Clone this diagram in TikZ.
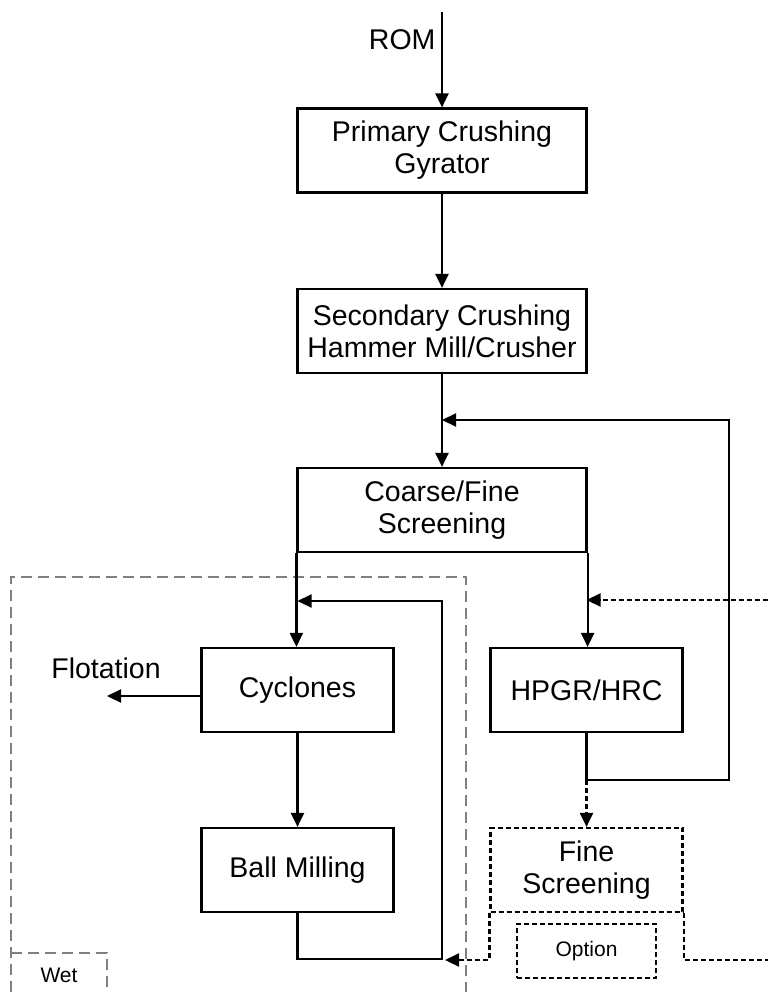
\documentclass[tikz,border=0pt]{standalone}
\usepackage{fontspec}
\setmainfont{Liberation Sans}
\usetikzlibrary{arrows.meta}
\begin{document}
\begin{tikzpicture}[x=1pt, y=-1pt,
          every node/.style={align=center, font=\fontsize{28.5}{32}\selectfont},
          box/.style={draw, line width=2.2pt, minimum width=289pt, minimum height=84pt, inner sep=0pt},
          unit/.style={box, minimum width=192pt},
          dbox/.style={unit, dash pattern=on 5pt off 3pt},
          small/.style={font=\fontsize{21}{25}\selectfont},
          flow/.style={line width=2.2pt, -{Triangle[length=14pt, width=13pt]}},
          dflow/.style={flow, dash pattern=on 5pt off 3pt},
          dline/.style={line width=2.2pt, dash pattern=on 5pt off 3pt},
          wetline/.style={gray, line width=1.2pt, dash pattern=on 11pt off 6pt}
        ]
        \useasboundingbox (0,0) rectangle (768,992);

        % Wet circuit frame
        \draw[wetline] (11,992) -- (11,577) -- (466,577) -- (466,992);
        \draw[wetline] (11,953) -- (107,953) -- (107,992);
        \node[small] (wet) at (59,975) {Wet};

        % Crushing line
        \coordinate (rom) at (442,12);
        \node[anchor=east] (romtxt) at (439,40) {ROM};
        \node[box] (prim) at (442,150.5) {Primary Crushing\\Gyrator};
        \node[box] (sec) at (442,331) {Secondary Crushing\\Hammer Mill/Crusher};
        \node[box] (coarse) at (442,510) {Coarse/Fine\\Screening};

        % Wet branch
        \node[unit] (cyc) at (297.5,690) {Cyclones};
        \node[unit] (ball) at (297.5,870) {Ball Milling};
        \coordinate (flot) at (107,696);
        \node (flottxt) at (106,668) {Flotation};

        % Dry branch
        \node[unit] (hpgr) at (586.5,690) {HPGR/HRC};
        \node[dbox] (fine) at (586.5,870) {Fine\\Screening};
        \node[dbox, small, minimum width=139pt, minimum height=54pt] (opt) at (586.5,951) {Option};

        % Return points
        \coordinate (secin) at (442,420);
        \coordinate (cycin) at (297.5,601);
        \coordinate (hpgrin) at (586.5,600);
        \coordinate (ballret) at (442,959);
        \coordinate (hpgrret) at (729,780);
        \coordinate (rin) at (768,600);
        \coordinate (fineret) at (445,960);
        \coordinate (fineout) at (768,960);

        % Connectors
        \draw[flow] (rom) -- (prim);
        \draw[flow] (prim) -- (sec);
        \draw[flow] (sec) -- (coarse);
        \draw[flow] (coarse.south west) -- (coarse.south west |- cyc.north);
        \draw[flow] (coarse.south east) -- (coarse.south east |- hpgr.north);
        \draw[flow] (cyc) -- (ball);
        \draw[flow] (cyc.west |- flot) -- (flot);
        \draw[flow] (ball.south) |- (ballret) |- (cycin);
        \draw[flow] (hpgr.south) |- (hpgrret) |- (secin);
        \draw[dflow] (hpgr.south |- hpgrret) -- (fine.north);
        \draw[dflow] (rin) -- (hpgrin);
        \draw[dflow] (fine.south west) |- (fineret);
        \draw[dline] (fine.south east) |- (fineout);

      \end{tikzpicture}
\end{document}
